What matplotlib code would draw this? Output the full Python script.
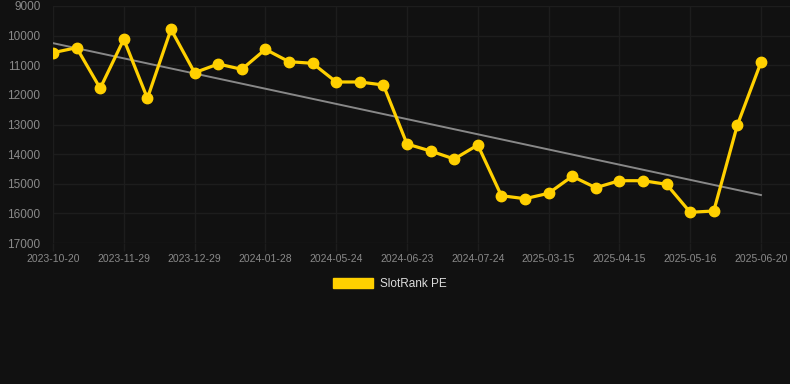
import numpy as np
import matplotlib
matplotlib.use("Agg")
import matplotlib.pyplot as plt

dates = ["2023-10-20", "2023-11-09", "2023-11-19", "2023-11-29", "2023-12-09", "2023-12-19",
         "2023-12-29", "2024-01-08", "2024-01-18", "2024-01-28", "2024-03-24", "2024-04-24",
         "2024-05-24", "2024-06-03", "2024-06-13", "2024-06-23", "2024-07-03", "2024-07-13",
         "2024-07-24", "2025-02-15", "2025-03-01", "2025-03-15", "2025-03-25", "2025-04-05",
         "2025-04-15", "2025-04-25", "2025-05-05", "2025-05-16", "2025-05-30", "2025-06-10",
         "2025-06-20"]
values = [10576, 10408, 11778, 10124, 12116, 9787, 11251, 10958, 11137, 10462, 10880, 10934,
          11565, 11565, 11667, 13658, 13895, 14165, 13692, 15403, 15505, 15322, 14749, 15133,
          14897, 14897, 15019, 15963, 15920, 13017, 10900]
series_name = "SlotRank PE"
yticks = [9000, 10000, 11000, 12000, 13000, 14000, 15000, 16000, 17000]

BG = "#111111"
GRID = "#1d1d1d"
TICK = "#8a8a8a"
LINE = "#FFD000"

plt.rcParams['font.family'] = ['Liberation Sans', 'DejaVu Sans']
fig = plt.figure(figsize=(7.9, 3.84), dpi=100, facecolor=BG)
ax = fig.add_axes([53/790, 1-243/384, 737/790, 237/384], facecolor=BG)

x = np.arange(len(values))
coef = np.polyfit(x, values, 1)
ax.plot(x, np.polyval(coef, x), color="#888888", lw=1.4, zorder=2)
ax.plot(x, values, color=LINE, lw=2.3, marker='o', markersize=7.5, zorder=3,
        label=series_name)

ax.set_xlim(0, 31.23)
ax.set_ylim(17000, 9000)
ax.set_yticks(yticks)
ax.set_yticklabels([str(v) for v in yticks])
ax.set_xticks(x[::3])
ax.set_xticklabels(dates[::3])
ax.tick_params(axis='y', colors=TICK, labelsize=8.5, length=0, pad=9)
ax.tick_params(axis='x', colors=GRID, labelcolor=TICK, labelsize=7.5, length=6, width=1, pad=2)
ax.grid(True, color=GRID, lw=1)
ax.set_axisbelow(True)
for s in ax.spines.values():
    s.set_visible(False)

leg = fig.legend(handles=[plt.Rectangle((0, 0), 1, 1, color=LINE)], labels=[series_name],
                 loc='center', bbox_to_anchor=(390/790, 1-284/384), frameon=False,
                 handlelength=3.4, handleheight=1.0, handletextpad=0.6, fontsize=8.5)
for t in leg.get_texts():
    t.set_color("#dddddd")

fig.savefig("out.png", dpi=100, facecolor=BG)
